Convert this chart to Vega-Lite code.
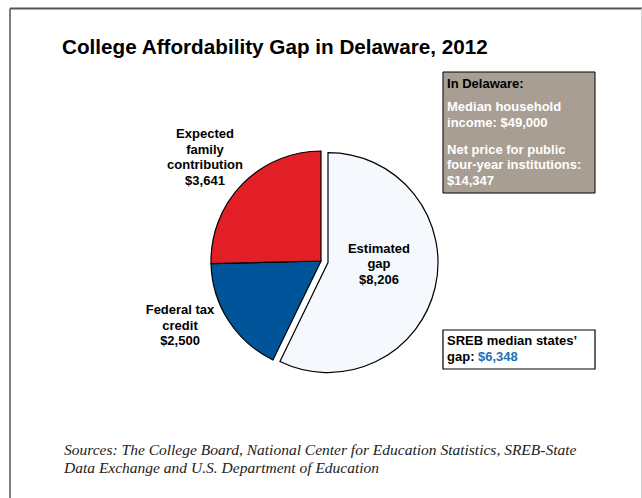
{
  "$schema": "https://vega.github.io/schema/vega-lite/v6.json",
  "width": 642,
  "height": 498,
  "padding": 0,
  "autosize": {"type": "none"},
  "background": "white",
  "config": {
    "view": {"stroke": null},
    "text": {"font": "Liberation Sans", "fontWeight": "bold", "fontSize": 13, "lineBreak": "\n", "lineHeight": 15.5, "color": "black"}
  },
  "datasets": {
    "slices": [
      {"category": "Estimated gap", "amount": 8206, "order": 1, "label": "Estimated\ngap\n$8,206"},
      {"category": "Federal tax credit", "amount": 2500, "order": 2, "label": "Federal tax\ncredit\n$2,500"},
      {"category": "Expected family contribution", "amount": 3641, "order": 3, "label": "Expected\nfamily\ncontribution\n$3,641"}
    ]
  },
  "layer": [
    {
      "data": {"values": [{}]},
      "mark": {"type": "rule", "color": "#555555", "strokeWidth": 2},
      "encoding": {
        "x": {"datum": 0.0156, "type": "quantitative", "scale": {"domain": [0, 1], "nice": false, "zero": false}, "axis": null},
        "x2": {"datum": 1},
        "y": {"datum": 0.0171, "type": "quantitative", "scale": {"domain": [0, 1], "nice": false, "zero": false, "reverse": true}, "axis": null}
      }
    },
    {
      "data": {"values": [{}]},
      "mark": {"type": "rule", "color": "#555555", "strokeWidth": 1.5},
      "encoding": {
        "x": {"datum": 0.0156, "type": "quantitative", "scale": {"domain": [0, 1], "nice": false, "zero": false}, "axis": null},
        "y": {"datum": 0.0171, "type": "quantitative", "scale": {"domain": [0, 1], "nice": false, "zero": false, "reverse": true}, "axis": null},
        "y2": {"datum": 1}
      }
    },
    {
      "data": {"values": [{}]},
      "mark": {"type": "rule", "color": "#d0d0d0", "strokeWidth": 1},
      "encoding": {
        "x": {"datum": 0.9992, "type": "quantitative", "scale": {"domain": [0, 1], "nice": false, "zero": false}, "axis": null},
        "y": {"datum": 0.0171, "type": "quantitative", "scale": {"domain": [0, 1], "nice": false, "zero": false, "reverse": true}, "axis": null},
        "y2": {"datum": 1}
      }
    },
    {
      "data": {"values": [{"t": "College Affordability Gap in Delaware, 2012"}]},
      "mark": {"type": "text", "fontSize": 20.7, "align": "left", "baseline": "middle"},
      "encoding": {
        "x": {"datum": 0.0966, "type": "quantitative", "scale": {"domain": [0, 1], "nice": false, "zero": false}, "axis": null},
        "y": {"datum": 0.0954, "type": "quantitative", "scale": {"domain": [0, 1], "nice": false, "zero": false, "reverse": true}, "axis": null},
        "text": {"field": "t"}
      }
    },
    {
      "data": {"name": "slices"},
      "mark": {"type": "arc", "radius": 110, "stroke": "black", "strokeWidth": 1.2},
      "encoding": {
        "theta": {"field": "amount", "type": "quantitative", "stack": true},
        "order": {"field": "order", "type": "quantitative"},
        "color": {"field": "category", "type": "nominal", "legend": null,
          "scale": {"domain": ["Estimated gap", "Federal tax credit", "Expected family contribution"], "range": ["#f5f8fc", "#00559a", "#e21e26"]}},
        "x": {"datum": 0.5, "type": "quantitative", "scale": {"domain": [0, 1], "nice": false, "zero": false}, "axis": null},
        "y": {"datum": 0.5241, "type": "quantitative", "scale": {"domain": [0, 1], "nice": false, "zero": false, "reverse": true}, "axis": null},
        "opacity": {"condition": {"test": "datum.category === 'Estimated gap'", "value": 0}, "value": 1}
      }
    },
    {
      "data": {"name": "slices"},
      "mark": {"type": "arc", "radius": 110, "stroke": "black", "strokeWidth": 1.2},
      "encoding": {
        "theta": {"field": "amount", "type": "quantitative", "stack": true},
        "order": {"field": "order", "type": "quantitative"},
        "color": {"field": "category", "type": "nominal", "legend": null,
          "scale": {"domain": ["Estimated gap", "Federal tax credit", "Expected family contribution"], "range": ["#f5f8fc", "#00559a", "#e21e26"]}},
        "x": {"datum": 0.5109, "type": "quantitative", "scale": {"domain": [0, 1], "nice": false, "zero": false}, "axis": null},
        "y": {"datum": 0.5273, "type": "quantitative", "scale": {"domain": [0, 1], "nice": false, "zero": false, "reverse": true}, "axis": null},
        "opacity": {"condition": {"test": "datum.category === 'Estimated gap'", "value": 1}, "value": 0}
      }
    },
    {
      "data": {"name": "slices"},
      "transform": [{"filter": "datum.category === 'Estimated gap'"}],
      "mark": {"type": "text", "align": "center", "baseline": "middle"},
      "encoding": {
        "x": {"datum": 0.5903, "type": "quantitative", "scale": {"domain": [0, 1], "nice": false, "zero": false}, "axis": null},
        "y": {"datum": 0.4995, "type": "quantitative", "scale": {"domain": [0, 1], "nice": false, "zero": false, "reverse": true}, "axis": null},
        "text": {"field": "label"}
      }
    },
    {
      "data": {"name": "slices"},
      "transform": [{"filter": "datum.category === 'Federal tax credit'"}],
      "mark": {"type": "text", "align": "center", "baseline": "middle"},
      "encoding": {
        "x": {"datum": 0.2804, "type": "quantitative", "scale": {"domain": [0, 1], "nice": false, "zero": false}, "axis": null},
        "y": {"datum": 0.6225, "type": "quantitative", "scale": {"domain": [0, 1], "nice": false, "zero": false, "reverse": true}, "axis": null},
        "text": {"field": "label"}
      }
    },
    {
      "data": {"name": "slices"},
      "transform": [{"filter": "datum.category === 'Expected family contribution'"}],
      "mark": {"type": "text", "align": "center", "baseline": "middle"},
      "encoding": {
        "x": {"datum": 0.3193, "type": "quantitative", "scale": {"domain": [0, 1], "nice": false, "zero": false}, "axis": null},
        "y": {"datum": 0.2691, "type": "quantitative", "scale": {"domain": [0, 1], "nice": false, "zero": false, "reverse": true}, "axis": null},
        "text": {"field": "label"}
      }
    },
    {
      "data": {"values": [{}]},
      "mark": {"type": "rect", "fill": "#a99e93", "stroke": "black", "strokeWidth": 1},
      "encoding": {
        "x": {"datum": 0.69, "type": "quantitative", "scale": {"domain": [0, 1], "nice": false, "zero": false}, "axis": null},
        "x2": {"datum": 0.9268},
        "y": {"datum": 0.1446, "type": "quantitative", "scale": {"domain": [0, 1], "nice": false, "zero": false, "reverse": true}, "axis": null},
        "y2": {"datum": 0.3876}
      }
    },
    {
      "data": {"values": [{"t": "In Delaware:"}]},
      "mark": {"type": "text", "align": "left", "baseline": "middle"},
      "encoding": {
        "x": {"datum": 0.6963, "type": "quantitative", "scale": {"domain": [0, 1], "nice": false, "zero": false}, "axis": null},
        "y": {"datum": 0.1687, "type": "quantitative", "scale": {"domain": [0, 1], "nice": false, "zero": false, "reverse": true}, "axis": null},
        "text": {"field": "t"}
      }
    },
    {
      "data": {"values": [{"t": "Median household\nincome: $49,000"}]},
      "mark": {"type": "text", "align": "left", "baseline": "middle", "color": "white"},
      "encoding": {
        "x": {"datum": 0.6963, "type": "quantitative", "scale": {"domain": [0, 1], "nice": false, "zero": false}, "axis": null},
        "y": {"datum": 0.2149, "type": "quantitative", "scale": {"domain": [0, 1], "nice": false, "zero": false, "reverse": true}, "axis": null},
        "text": {"field": "t"}
      }
    },
    {
      "data": {"values": [{"t": "Net price for public\nfour-year institutions:\n$14,347"}]},
      "mark": {"type": "text", "align": "left", "baseline": "middle", "color": "white"},
      "encoding": {
        "x": {"datum": 0.6963, "type": "quantitative", "scale": {"domain": [0, 1], "nice": false, "zero": false}, "axis": null},
        "y": {"datum": 0.3012, "type": "quantitative", "scale": {"domain": [0, 1], "nice": false, "zero": false, "reverse": true}, "axis": null},
        "text": {"field": "t"}
      }
    },
    {
      "data": {"values": [{}]},
      "mark": {"type": "rect", "fill": "white", "stroke": "black", "strokeWidth": 1.2},
      "encoding": {
        "x": {"datum": 0.69, "type": "quantitative", "scale": {"domain": [0, 1], "nice": false, "zero": false}, "axis": null},
        "x2": {"datum": 0.9268},
        "y": {"datum": 0.6627, "type": "quantitative", "scale": {"domain": [0, 1], "nice": false, "zero": false, "reverse": true}, "axis": null},
        "y2": {"datum": 0.741}
      }
    },
    {
      "data": {"values": [{"t": "SREB median states’"}]},
      "mark": {"type": "text", "align": "left", "baseline": "middle"},
      "encoding": {
        "x": {"datum": 0.6963, "type": "quantitative", "scale": {"domain": [0, 1], "nice": false, "zero": false}, "axis": null},
        "y": {"datum": 0.6847, "type": "quantitative", "scale": {"domain": [0, 1], "nice": false, "zero": false, "reverse": true}, "axis": null},
        "text": {"field": "t"}
      }
    },
    {
      "data": {"values": [{"t": "gap:"}]},
      "mark": {"type": "text", "align": "left", "baseline": "middle"},
      "encoding": {
        "x": {"datum": 0.6963, "type": "quantitative", "scale": {"domain": [0, 1], "nice": false, "zero": false}, "axis": null},
        "y": {"datum": 0.7169, "type": "quantitative", "scale": {"domain": [0, 1], "nice": false, "zero": false, "reverse": true}, "axis": null},
        "text": {"field": "t"}
      }
    },
    {
      "data": {"values": [{"t": "$6,348"}]},
      "mark": {"type": "text", "align": "left", "baseline": "middle", "color": "#1f6db3"},
      "encoding": {
        "x": {"datum": 0.7445, "type": "quantitative", "scale": {"domain": [0, 1], "nice": false, "zero": false}, "axis": null},
        "y": {"datum": 0.7169, "type": "quantitative", "scale": {"domain": [0, 1], "nice": false, "zero": false, "reverse": true}, "axis": null},
        "text": {"field": "t"}
      }
    },
    {
      "data": {"values": [{"t": "Sources: The College Board, National Center for Education Statistics, SREB-State\nData Exchange and U.S. Department of Education"}]},
      "mark": {"type": "text", "align": "left", "baseline": "middle", "font": "Liberation Serif", "fontStyle": "italic", "fontWeight": "normal", "fontSize": 15.5, "lineHeight": 18, "color": "#222222"},
      "encoding": {
        "x": {"datum": 0.0997, "type": "quantitative", "scale": {"domain": [0, 1], "nice": false, "zero": false}, "axis": null},
        "y": {"datum": 0.9036, "type": "quantitative", "scale": {"domain": [0, 1], "nice": false, "zero": false, "reverse": true}, "axis": null},
        "text": {"field": "t"}
      }
    }
  ]
}
